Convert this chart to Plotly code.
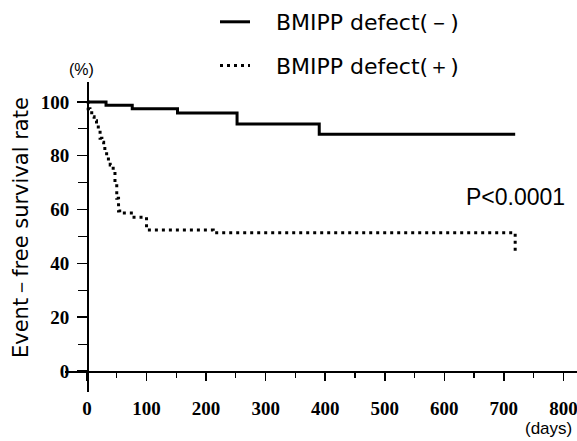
import plotly.graph_objects as go

# ---- data ----
neg_days = [0, 32, 76, 152, 252, 390, 719]
neg_surv = [100, 98.8, 97.5, 95.9, 91.8, 88.0, 88.0]

pos_days = [0, 2, 5, 8, 12, 16, 19, 22, 25, 28, 30, 33, 36, 39, 44, 47, 50, 53, 55, 79, 100, 212, 719, 719]
pos_surv = [100, 97.5, 96.0, 94.5, 93.0, 92.0, 89.6, 86.5, 85.0, 83.5, 82.0, 79.7, 78.0, 76.6, 74.0, 70.0, 64.2, 59.5, 58.7, 57.1, 52.4, 51.4, 51.4, 44.5]

series_names = ["BMIPP defect(\uff0d)", "BMIPP defect(\uff0b)"]
x_tick_vals = [0, 100, 200, 300, 400, 500, 600, 700, 800]
y_tick_vals = [0, 20, 40, 60, 80, 100]

W, H = 577, 441
ML, MR, MT, MB = 65, 0, 82, 49
PW, PH = W - ML - MR, H - MT - MB
PAD = "\u00a0\u00a0\u00a0"


def px(x):
    return (x - ML) / PW


def py(y):
    return (H - MB - y) / PH


fig = go.Figure()
fig.add_trace(go.Scatter(
    x=neg_days, y=neg_surv, mode="lines", line_shape="hv", hoverinfo="skip",
    line=dict(color="black", width=3), name=PAD + series_names[0], legendgroup="a"))
fig.add_trace(go.Scatter(
    x=pos_days, y=pos_surv, mode="lines", line_shape="hv", hoverinfo="skip",
    line=dict(color="black", width=3, dash="3px,4px"), name=PAD + series_names[1], legendgroup="b"))

tickfont = dict(family="Liberation Serif", size=19, color="black", weight="bold")

fig.update_layout(
    width=W, height=H,
    margin=dict(l=ML, r=MR, t=MT, b=MB),
    paper_bgcolor="white", plot_bgcolor="white",
    showlegend=True, hovermode=False,
    legend=dict(x=px(215), y=py(1), yanchor="top", xanchor="left",
                font=dict(family="DejaVu Sans", size=22, color="black"),
                tracegroupgap=12, bgcolor="rgba(0,0,0,0)"),
    xaxis=dict(range=[-36.9, 822.8], anchor="free", position=21 / PH,
               showline=True, linecolor="black", linewidth=1.5,
               showgrid=False, zeroline=False,
               tickvals=x_tick_vals, ticks="outside", ticklen=8, tickwidth=1.5, tickcolor="black",
               minor=dict(dtick=50, tick0=0, ticks="outside", ticklen=5, tickwidth=1.2, tickcolor="black"),
               tickfont=tickfont, ticklabelstandoff=12, ticklabeloverflow="allow"),
    yaxis=dict(range=[-7.8, 107.4], anchor="free", position=22 / PW,
               showline=True, linecolor="black", linewidth=1.8,
               showgrid=False, zeroline=False,
               tickvals=y_tick_vals, ticks="outside", ticklen=10, tickwidth=1.5, tickcolor="black",
               minor=dict(dtick=10, tick0=0, ticks="outside", ticklen=9, tickwidth=1.2, tickcolor="black"),
               tickfont=tickfont, ticklabelstandoff=4),
)

fig.add_annotation(text="Event\uff0dfree survival rate", textangle=-90,
                   xref="paper", yref="paper", x=px(21), y=py(228),
                   xanchor="center", yanchor="middle", showarrow=False,
                   font=dict(family="DejaVu Sans", size=21, color="black"))
fig.add_annotation(text="(%)", xref="paper", yref="paper", x=px(81), y=py(70),
                   xanchor="center", yanchor="middle", showarrow=False,
                   font=dict(family="Liberation Sans", size=16, color="black"))
fig.add_annotation(text="(days)", xref="paper", yref="paper", x=px(548), y=py(428),
                   xanchor="center", yanchor="middle", showarrow=False,
                   font=dict(family="Liberation Sans", size=17, color="black"))
fig.add_annotation(text="P<0.0001", xref="paper", yref="paper", x=px(515), y=py(197),
                   xanchor="center", yanchor="middle", showarrow=False,
                   font=dict(family="Liberation Sans", size=23, color="black"))

fig.write_html("out.html", config={"displayModeBar": False, "staticPlot": True},
               post_script="document.body.style.margin='0px';")
